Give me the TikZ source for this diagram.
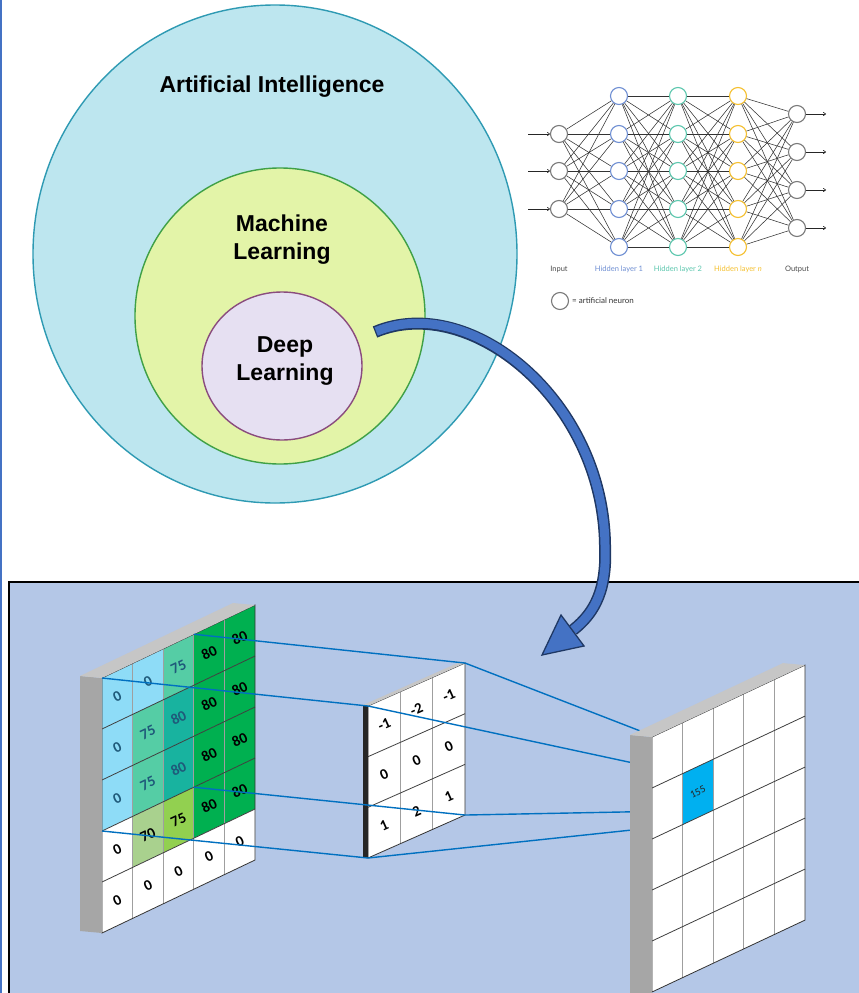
\documentclass[tikz,border=0pt]{standalone}
\usepackage{fontspec}
\setmainfont{Liberation Sans}
\newfontfamily\latofont{Lato}
\newfontfamily\carlitofont{Carlito}
\usetikzlibrary{arrows.meta,calc,shapes.geometric}
\pgfdeclarelayer{front}
\pgfsetlayers{main,front}
\definecolor{aifill}{HTML}{BDE6EF}
\definecolor{aiedge}{HTML}{2E9AB3}
\definecolor{mlfill}{HTML}{E3F4A8}
\definecolor{mledge}{HTML}{3FA046}
\definecolor{dlfill}{HTML}{E6E0F2}
\definecolor{dledge}{HTML}{8A4C7E}
\definecolor{panelbg}{HTML}{B4C7E7}
\definecolor{arrfill}{HTML}{4472C4}
\definecolor{arredge}{HTML}{1F3864}
\definecolor{hlone}{HTML}{6F8FD3}
\definecolor{hltwo}{HTML}{5CC7AE}
\definecolor{hln}{HTML}{F5C02F}
\definecolor{nngray}{HTML}{7A7A7A}
\definecolor{linkblue}{HTML}{0070C0}
\definecolor{cellblue}{HTML}{8EDCF7}
\definecolor{cellteal}{HTML}{55CDA5}
\definecolor{celldteal}{HTML}{18B39F}
\definecolor{cellgreen}{HTML}{00B050}
\definecolor{celllime}{HTML}{92D050}
\definecolor{cellpale}{HTML}{A9D18E}
\definecolor{outcell}{HTML}{00B0F0}
\definecolor{sidegray}{HTML}{A6A6A6}
\definecolor{topgray}{HTML}{C6C6C6}
\definecolor{kdark}{HTML}{262626}
\definecolor{numblue}{HTML}{1F5A7A}
\tikzset{
  setblob/.style={ellipse, line width=1.4pt, inner sep=0},
  setlabel/.style={font=\bfseries\fontsize{23}{27.5}\selectfont, align=center, inner sep=0},
  neuron/.style={circle, draw=#1, fill=white, line width=1.1pt, minimum size=17pt, inner sep=0},
  nnedge/.style={draw=black!80, line width=0.55pt},
  nnarrow/.style={-{To[length=3pt,width=4pt]}, draw=black!85, line width=0.6pt},
  nnlabel/.style={font=\latofont\fontsize{7.5}{8}\selectfont, inner sep=0},
  cellnum/.style={font=\carlitofont\bfseries\fontsize{15}{15}\selectfont, inner sep=0, rotate=25},
  vgrid/.style={draw=gray!75, line width=1.3pt},
  hgrid/.style={draw=black!75, line width=0.8pt},
  faceedge/.style={draw=black!80, line width=0.8pt},
  link/.style={draw=linkblue, line width=1.4pt}}
\begin{document}
\begin{tikzpicture}[x=1pt, y=-1pt]
\useasboundingbox (0,0) rectangle (859,993);
\fill[white] (0,0) rectangle (859,993);
\draw[arrfill, line width=2pt] (1,0) -- (1,993);

% AI / ML / DL sets
\node[setblob, fill=aifill, draw=aiedge, minimum width=484pt, minimum height=498pt] (ai) at (275,254) {};
\node[setblob, fill=mlfill, draw=mledge, minimum width=290pt, minimum height=296pt] (ml) at (280,316) {};
\node[setblob, fill=dlfill, draw=dledge, minimum width=160pt, minimum height=148pt] (dl) at (282,366) {};
\node[setlabel, anchor=base] (aitext) at (272,92) {Artificial Intelligence};
\node[setlabel, anchor=north] (mltext) at (282,215) {Machine\\Learning};
\node[setlabel, anchor=north] (dltext) at (285,336.5) {Deep\\Learning};

% neural network
\foreach \i/\y in {1/134,2/171,3/209}
  \node[neuron=nngray] (in\i) at (559,\y) {};
\foreach \i/\y in {1/96,2/134,3/171,4/209,5/247} {
  \node[neuron=hlone] (ha\i) at (619,\y) {};
  \node[neuron=hltwo] (hb\i) at (678,\y) {};
  \node[neuron=hln] (hn\i) at (738,\y) {};
}
\foreach \i/\y in {1/114,2/152,3/190,4/228}
  \node[neuron=nngray] (out\i) at (797,\y) {};
\foreach \a in {1,...,3}
  \foreach \b in {1,...,5}
    \draw[nnedge] (in\a) -- (ha\b);
\foreach \a in {1,...,5}
  \foreach \b in {1,...,5} {
    \draw[nnedge] (ha\a) -- (hb\b);
    \draw[nnedge] (hb\a) -- (hn\b);
  }
\foreach \a in {1,...,5}
  \foreach \b in {1,...,4}
    \draw[nnedge] (hn\a) -- (out\b);
\foreach \i/\y in {1/134,2/171,3/209} {
  \coordinate (src\i) at (528,\y);
  \draw[nnarrow] (src\i) -- (in\i);
}
\foreach \i/\y in {1/114,2/152,3/190,4/228} {
  \coordinate (dst\i) at (826,\y);
  \draw[nnarrow] (out\i) -- (dst\i);
}
\node[nnlabel, text=black!70] (lbin) at (559,269) {Input};
\node[nnlabel, text=hlone] (lbha) at (619,269) {Hidden layer 1};
\node[nnlabel, text=hltwo] (lbhb) at (678,269) {Hidden layer 2};
\node[nnlabel, text=hln] (lbhn) at (738,269) {Hidden layer \textit{n}};
\node[nnlabel, text=black!70] (lbout) at (797,269) {Output};
\node[neuron=nngray] (legdot) at (560,301) {};
\node[nnlabel, font=\latofont\fontsize{8}{9}\selectfont, anchor=west, text=black!80] (legtext) at (572,301) {= artificial neuron};

% convolution panel
\draw[fill=panelbg, line width=1.3pt] (9,582) rectangle (875,1010);

% input image
\begin{scope}[shift={(102,678)}, yslant=0.477]
  \fill[white] (0,0) rectangle (153,255);
  \foreach \c/\r/\f/\v/\t in {
      0/0/cellblue/0/numblue, 1/0/cellblue/0/numblue, 2/0/cellteal/75/numblue,
      3/0/cellgreen/80/black, 4/0/cellgreen/80/black,
      0/1/cellblue/0/numblue, 1/1/cellteal/75/numblue, 2/1/celldteal/80/numblue,
      3/1/cellgreen/80/black, 4/1/cellgreen/80/black,
      0/2/cellblue/0/numblue, 1/2/cellteal/75/numblue, 2/2/celldteal/80/numblue,
      3/2/cellgreen/80/black, 4/2/cellgreen/80/black,
      0/3/white/0/black, 1/3/cellpale/70/black, 2/3/celllime/75/black,
      3/3/cellgreen/80/black, 4/3/cellgreen/80/black,
      0/4/white/0/black, 1/4/white/0/black, 2/4/white/0/black,
      3/4/white/0/black, 4/4/white/0/black} {
    \fill[\f] (\c*30.6,\r*51) rectangle ++(30.6,51);
    \node[cellnum, text=\t] (in-\c-\r) at (\c*30.6+15.3,\r*51+25.5) {\v};
  }
  \foreach \c in {1,...,4}
    \draw[vgrid] (\c*30.6,0) -- (\c*30.6,255);
  \foreach \r in {1,...,4}
    \draw[hgrid] (0,\r*51) -- (153,\r*51);
  \draw[faceedge] (0,0) rectangle (153,255);
  \coordinate (inTL) at (0,0);
  \coordinate (inTR) at (153,0);
  \coordinate (inBL) at (0,255);
  \coordinate (fTL) at (0,0);
  \coordinate (fTR) at (91.8,0);
  \coordinate (fBL) at (0,153);
  \coordinate (fBR) at (91.8,153);
\end{scope}
\fill[sidegray] ($(inTL)+(-22,-2)$) -- (inTL) -- (inBL) -- ($(inBL)+(-22,-2)$) -- cycle;
\fill[topgray] ($(inTL)+(-22,-2)$) -- ($(inTR)+(-22,-2)$) -- (inTR) -- (inTL) -- cycle;

% kernel
\begin{scope}[shift={(368,706)}, yslant=0.443]
  \fill[white] (0,0) rectangle (97,152);
  \foreach \c/\r/\v in {0/0/-1, 1/0/-2, 2/0/-1, 0/1/0, 1/1/0, 2/1/0, 0/2/1, 1/2/2, 2/2/1}
    \node[cellnum, rotate=-1] (k-\c-\r) at (\c*32.33+16.2,\r*50.67+25.3) {\v};
  \foreach \c in {1,2}
    \draw[vgrid] (\c*32.33,0) -- (\c*32.33,152);
  \foreach \r in {1,2}
    \draw[hgrid] (0,\r*50.67) -- (97,\r*50.67);
  \draw[faceedge] (0,0) rectangle (97,152);
  \coordinate (kTL) at (0,0);
  \coordinate (kTR) at (97,0);
  \coordinate (kBL) at (0,152);
  \coordinate (kBR) at (97,152);
\end{scope}
\fill[kdark] ($(kTL)+(-5,-1)$) -- (kTL) -- (kBL) -- ($(kBL)+(-5,-1)$) -- cycle;
\fill[topgray] ($(kTL)+(-5,-1)$) -- ($(kTR)+(-5,-1)$) -- (kTR) -- (kTL) -- cycle;

% output feature map
\begin{pgfonlayer}{front}
\begin{scope}[shift={(652,737)}, yslant=0.47]
  \fill[white] (0,0) rectangle (153,255);
  \fill[outcell] (30.6,51) rectangle ++(30.6,51);
  \node[cellnum, font=\carlitofont\fontsize{10.5}{10.5}\selectfont, text=black!85] (outval) at (45.9,76.5) {155};
  \foreach \c in {1,...,4}
    \draw[vgrid] (\c*30.6,0) -- (\c*30.6,255);
  \foreach \r in {1,...,4}
    \draw[hgrid] (0,\r*51) -- (153,\r*51);
  \draw[faceedge] (0,0) rectangle (153,255);
  \coordinate (outTL) at (0,0);
  \coordinate (outTR) at (153,0);
  \coordinate (outBL) at (0,270);
  \coordinate (oTL) at (30.6,51);
  \coordinate (oTR) at (61.2,51);
  \coordinate (oBL) at (30.6,102);
  \coordinate (oBR) at (61.2,102);
\end{scope}
\fill[sidegray] ($(outTL)+(-22,-2)$) -- (outTL) -- (outBL) -- ($(outBL)+(-22,-2)$) -- cycle;
\fill[topgray] ($(outTL)+(-22,-2)$) -- ($(outTR)+(-22,-2)$) -- (outTR) -- (outTL) -- cycle;
\end{pgfonlayer}

% receptive field links
\draw[link] (fTR) -- (kTR) -- (oTR);
\draw[link] (fTL) -- (kTL) -- (oTL);
\draw[link] (fBR) -- (kBR) -- (oBR);
\draw[link] (fBL) -- (kBL) -- (oBL);

% curved arrow from deep learning to the panel
\coordinate (arrtail) at (375,332);
\coordinate (arrbend) at (605,545);
\coordinate (arrbase) at (573,630);
\coordinate (arrtip) at (542,655);
\coordinate (barbl) at (561,615);
\coordinate (barbr) at (584,646);
\draw[arredge, line width=12pt] (arrtail) .. controls (470,292) and (603,400) .. (arrbend)
  .. controls (607,588) and (596,612) .. (arrbase);
\draw[arrfill, line width=9pt, shorten <=1.3pt] (arrtail) .. controls (470,292) and (603,400) .. (arrbend)
  .. controls (607,588) and (596,612) .. (arrbase);
\filldraw[fill=arrfill, draw=arredge, line width=1.3pt, line join=miter] (arrtip) -- (barbl) -- (barbr) -- cycle;
\end{tikzpicture}
\end{document}
